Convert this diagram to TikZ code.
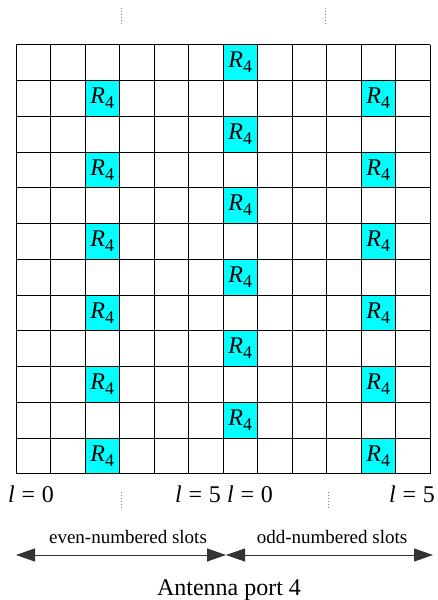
\documentclass[tikz,border=0pt]{standalone}
\usepackage{fontspec}
\setmainfont{Liberation Serif}
\usetikzlibrary{arrows.meta, positioning, calc}
\definecolor{rscyan}{RGB}{0,255,255}

\newcommand{\refsym}{\textit{R}\raisebox{-0.45ex}{\fontsize{18}{18}\selectfont 4}}

\begin{document}
\begin{tikzpicture}[
  x=1pt, y=-1pt,
  every node/.style={font=\fontsize{24}{24}\selectfont, inner sep=0pt},
  rcell/.style={rectangle, fill=rscyan, minimum width=34.5pt, minimum height=35.75pt},
  gridline/.style={black, line width=0.8pt},
  tick/.style={gray, dotted, line width=0.9pt},
  slotlbl/.style={font=\fontsize{19}{19}\selectfont},
  slotarr/.style={{Triangle[length=19pt,width=13pt]}-{Triangle[length=19pt,width=13pt]}, line width=0.8pt, black!80},
]
\useasboundingbox (0,0) rectangle (437,600);

%% reference signal cells
\foreach \r in {1,3,...,11} {
  \node[rcell] (a\r) at ({16+34.5*2.5}, {44.7+35.75*(\r+0.5)}) {\refsym};
  \node[rcell] (c\r) at ({16+34.5*10.5}, {44.7+35.75*(\r+0.5)}) {\refsym};
}
\foreach \r in {0,2,...,10} {
  \node[rcell] (b\r) at ({16+34.5*6.5}, {44.7+35.75*(\r+0.5)}) {\refsym};
}

%% grid
\foreach \c in {0,...,12}
  \draw[gridline] ({16+34.5*\c}, 44.7) -- ({16+34.5*\c}, 473.7);
\foreach \r in {0,...,12}
  \draw[gridline] (16, {44.7+35.75*\r}) -- (430, {44.7+35.75*\r});

%% slot boundary ticks
\draw[tick] (121,8) -- (121,25);
\draw[tick] (325,8) -- (325,25);
\draw[tick] (121,492) -- (121,508);
\draw[tick] (328,492) -- (328,508);

%% symbol index labels
\node (l0a) at (31,494) {\textit{l}\;=\;0};
\node (l5a) at (198,494) {\textit{l}\;=\;5};
\node (l0b) at (250,494) {\textit{l}\;=\;0};
\node (l5b) at (412,494) {\textit{l}\;=\;5};

%% slots
\node[slotlbl] (even) at (128,537) {even-numbered slots};
\node[slotlbl] (odd) at (332,537) {odd-numbered slots};

\coordinate (sl) at (16,555);
\coordinate (sm) at (226,555);
\coordinate (sr) at (433,555);
\draw[slotarr] (sl) -- (sm);
\draw[slotarr] (sm) -- (sr);

\node (port) at (229,590) {Antenna port 4};

\end{tikzpicture}
\end{document}
